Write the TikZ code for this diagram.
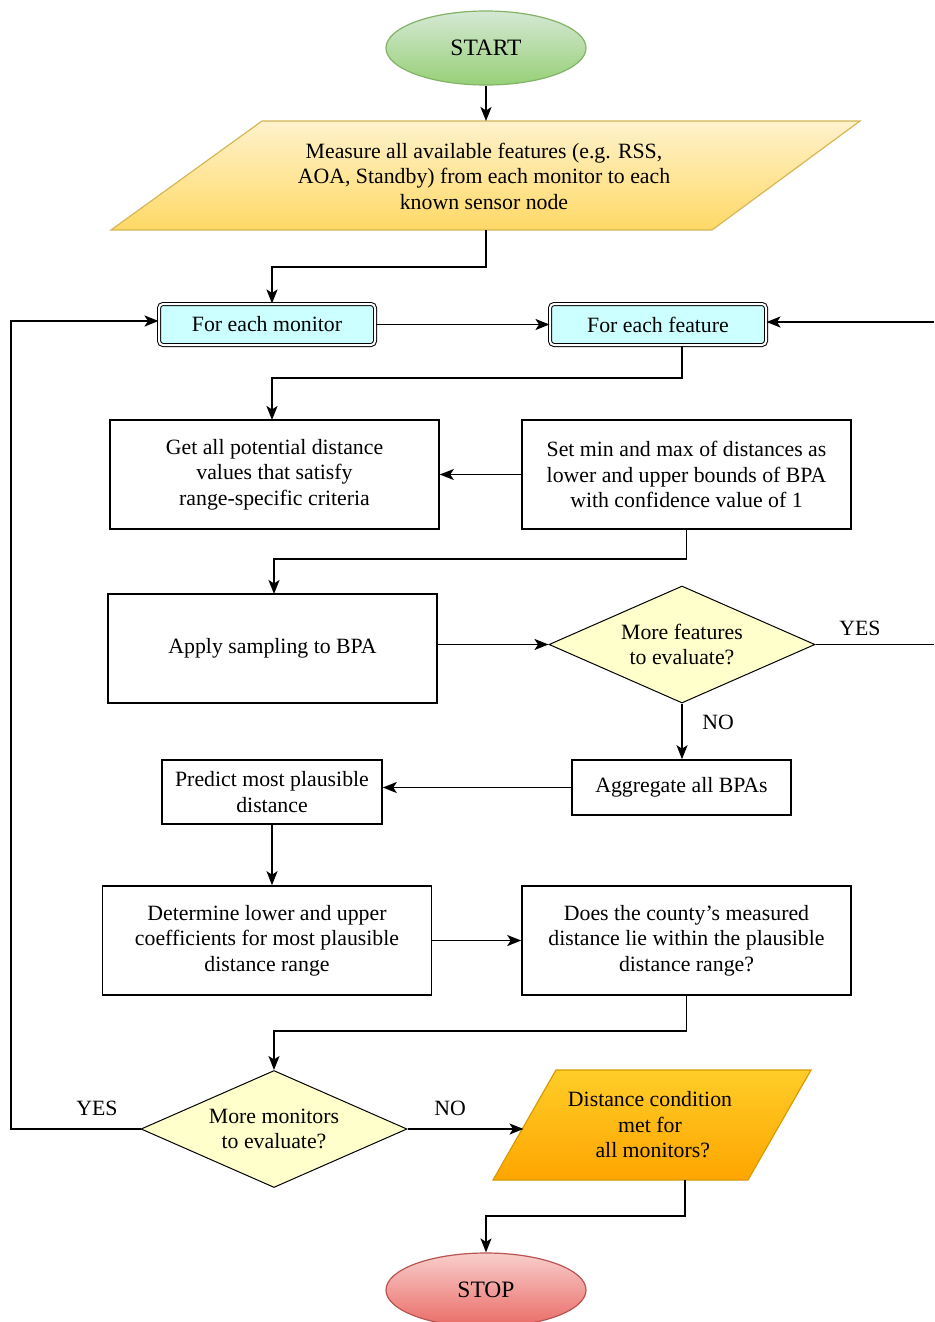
\documentclass[tikz,border=0pt]{standalone}
\usepackage{fontspec}
\setmainfont{Liberation Serif}
\usetikzlibrary{shapes.geometric,arrows.meta}
\definecolor{gfill1}{HTML}{D5E8D4}
\definecolor{gfill2}{HTML}{97D077}
\definecolor{gline}{HTML}{82B366}
\definecolor{yfill1}{HTML}{FFF2CC}
\definecolor{yfill2}{HTML}{FFD966}
\definecolor{yline}{HTML}{D6B656}
\definecolor{ofill1}{HTML}{FFCD28}
\definecolor{ofill2}{HTML}{FFA500}
\definecolor{oline}{HTML}{D79B00}
\definecolor{rfill1}{HTML}{F8CECC}
\definecolor{rfill2}{HTML}{EA6B66}
\definecolor{rline}{HTML}{B85450}
\definecolor{cyanfill}{HTML}{CCFFFF}
\definecolor{dfill}{HTML}{FFFFCC}
\begin{document}
\begin{tikzpicture}[x=1pt,y=-1pt,
  every node/.style={font=\fontsize{21.8}{25.5}\selectfont, align=center, inner sep=0pt},
  arr/.style={-{Stealth[length=14pt,width=11pt,inset=3.5pt]}, line width=1.7pt},
  conn/.style={line width=1.7pt},
  procbox/.style={draw, line width=1.6pt, minimum width=329pt, minimum height=109pt},
  loopbox/.style={draw, double, double distance=2pt, line width=1pt, rounded corners=4pt, fill=cyanfill, minimum width=216pt, minimum height=41pt},
  decbox/.style={draw, diamond, line width=1pt, fill=dfill, minimum width=266pt, minimum height=117pt, aspect=2.27},
  lbl/.style={font=\fontsize{21.8}{25}\selectfont},
  termfont/.style={font=\fontsize{23.5}{28}\selectfont}
]
\useasboundingbox (0,0) rectangle (934,1322);

% START
\node[ellipse, draw=gline, line width=1.2pt, top color=gfill1, bottom color=gfill2, minimum width=200pt, minimum height=74pt, termfont] (start) at (486,48) {START};

% Measure parallelogram
\coordinate (m1) at (262,121);
\coordinate (m2) at (860,121);
\coordinate (m3) at (712,230);
\coordinate (m4) at (111,230);
\path[draw=yline, line width=1.2pt, top color=yfill1, bottom color=yfill2] (m1) -- (m2) -- (m3) -- (m4) -- cycle;
\node (meas) at (484,176) {Measure all available features (e.g. RSS,\\AOA, Standby) from each monitor to each\\known sensor node};
\coordinate (mtop) at (486,121);
\coordinate (mbot) at (486,230);

% loops
\node[loopbox] (mon) at (267,324.5) {For each monitor};
\node[loopbox] (feat) at (658,324.5) {For each feature};

% process boxes
\node[procbox] (get) at (274.5,474.5) {Get all potential distance\\values that satisfy\\range-specific criteria};
\node[procbox] (set) at (686.5,474.5) {Set min and max of distances as\\lower and upper bounds of BPA\\with confidence value of 1};
\node[procbox] (apply) at (272.5,648.5) {Apply sampling to BPA};
\node[decbox] (fdia) at (682,644.5) {More features\\to evaluate?};
\node[draw, line width=1.6pt, minimum width=219pt, minimum height=55pt] (agg) at (681.5,787.5) {Aggregate all BPAs};
\node[draw, line width=1.6pt, minimum width=220pt, minimum height=64pt] (pred) at (272,792) {Predict most plausible\\distance};
\node[procbox] (det) at (267,940.5) {Determine lower and upper\\coefficients for most plausible\\distance range};
\node[procbox] (does) at (686.5,940.5) {Does the county’s measured\\distance lie within the plausible\\distance range?};
\node[decbox] (mdia) at (274,1129) {More monitors\\to evaluate?};

% Distance condition parallelogram
\coordinate (d1) at (556,1070);
\coordinate (d2) at (811,1070);
\coordinate (d3) at (748,1180);
\coordinate (d4) at (493,1180);
\path[draw=oline, line width=1.2pt, top color=ofill1, bottom color=ofill2] (d1) -- (d2) -- (d3) -- (d4) -- cycle;
\node (dist) at (650,1125) {Distance condition\\met for\\\ all monitors?};
\coordinate (dleft) at (523.5,1129);
\coordinate (dbot) at (685,1180);

% STOP
\node[ellipse, draw=rline, line width=1.2pt, top color=rfill1, bottom color=rfill2, minimum width=200pt, minimum height=74pt, termfont] (stop) at (486,1290) {STOP};

% connectors
\draw[arr] (start) -- (mtop);
\draw[arr] (mbot) -- (486,267) -| (mon.north -| 272,0);
\draw[arr] (mon.east) -- (feat.west);
\draw[arr] (feat.south -| 682,0) -- (682,378) -| (272,420);
\draw[arr] (set.west) -- (get.east);
\draw[arr] (set.south) -- (686.5,559) -| (274,594);
\draw[arr] (apply.east |- fdia.west) -- (fdia.west);
\coordinate (redgeY) at (934,644.5);
\draw[conn] (fdia.east) -- (redgeY);
\node[lbl] at (860,628) {YES};
\coordinate (redgeF) at (934,322);
\draw[arr] (redgeF) -- (feat.east |- redgeF);
\draw[arr] (fdia.south) -- (agg.north -| fdia.south);
\node[lbl] at (718,722) {NO};
\draw[arr] (agg.west) -- (pred.east |- agg.west);
\draw[arr] (pred.south) -- (pred.south |- det.north);
\draw[arr] (det.east) -- (does.west);
\draw[arr] (does.south) -- (686.5,1031) -| (mdia.north);
\coordinate (lc) at (11,321);
\draw[arr] (mdia.west) -| (lc) -- (mon.west |- lc);
\node[lbl] at (97,1108) {YES};
\draw[arr] (mdia.east) -- (dleft);
\node[lbl] at (450,1108) {NO};
\draw[arr] (dbot) -- (685,1216) -| (stop.north);
\end{tikzpicture}
\end{document}
